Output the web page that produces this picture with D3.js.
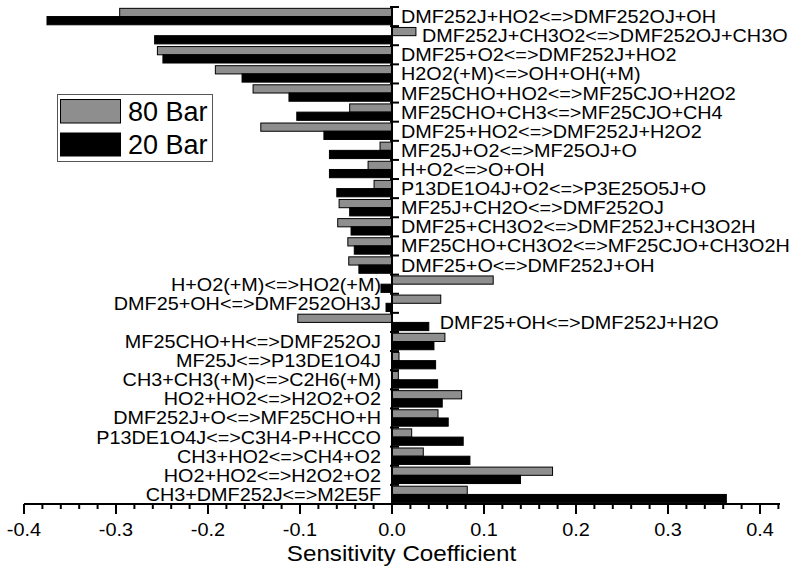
<!DOCTYPE html>
<html><head><meta charset="utf-8">
<script src="https://cdn.jsdelivr.net/npm/d3@7"></script>
<style>body{margin:0;background:#fff}svg{display:block}text{font-family:"Liberation Sans",Arial,sans-serif;fill:#000}</style>
</head><body><svg id="c" width="800" height="572"></svg>
<script>
const categories = [
 "DMF252J+HO2<=>DMF252OJ+OH","DMF252J+CH3O2<=>DMF252OJ+CH3O","DMF25+O2<=>DMF252J+HO2",
 "H2O2(+M)<=>OH+OH(+M)","MF25CHO+HO2<=>MF25CJO+H2O2","MF25CHO+CH3<=>MF25CJO+CH4",
 "DMF25+HO2<=>DMF252J+H2O2","MF25J+O2<=>MF25OJ+O","H+O2<=>O+OH","P13DE1O4J+O2<=>P3E25O5J+O",
 "MF25J+CH2O<=>DMF252OJ","DMF25+CH3O2<=>DMF252J+CH3O2H","MF25CHO+CH3O2<=>MF25CJO+CH3O2H",
 "DMF25+O<=>DMF252J+OH","H+O2(+M)<=>HO2(+M)","DMF25+OH<=>DMF252OH3J","DMF25+OH<=>DMF252J+H2O",
 "MF25CHO+H<=>DMF252OJ","MF25J<=>P13DE1O4J","CH3+CH3(+M)<=>C2H6(+M)","HO2+HO2<=>H2O2+O2",
 "DMF252J+O<=>MF25CHO+H","P13DE1O4J<=>C3H4-P+HCCO","CH3+HO2<=>CH4+O2","HO2+HO2<=>H2O2+O2",
 "CH3+DMF252J<=>M2E5F"];
const bar80 = [-0.296,0.026,-0.255,-0.192,-0.151,-0.046,-0.1426,-0.013,-0.026,-0.0195,-0.0575,-0.059,-0.048,-0.047,
  0.110,0.053,-0.1024,0.0575,0.0076,0.0069,0.0757,0.050,0.0214,0.034,0.1745,0.0818];
const bar20 = [-0.375,-0.258,-0.249,-0.163,-0.112,-0.1035,-0.074,-0.068,-0.068,-0.060,-0.046,-0.0445,-0.041,-0.036,
  -0.012,-0.0065,0.040,0.0456,0.0474,0.0496,0.0546,0.0611,0.0774,0.0847,0.1397,0.3634];
const labelSide = ["R","R","R","R","R","R","R","R","R","R","R","R","R","R","L","L","R","L","L","L","L","L","L","L","L","L"];
const seriesNames = ["80 Bar","20 Bar"];
const xTicks = [-0.4,-0.3,-0.2,-0.1,0.0,0.1,0.2,0.3,0.4];
const xTickLabels = ["-0.4","-0.3","-0.2","-0.1","0.0","0.1","0.2","0.3","0.4"];
const xTitle = "Sensitivity Coefficient";

const svg = d3.select("#c");
const x = d3.scaleLinear().domain([-0.4,0.42]).range([24,778.4]);
const y = d3.scaleBand().domain(d3.range(categories.length)).range([7,504]).padding(0);
const bw = y.bandwidth();
const bh = bw*0.43;
const GRAY = "#8e8e8e";

function txt(g, s, tx, ty, size, anchor, sx){
  return g.append("text").attr("transform",`translate(${tx},${ty}) scale(${sx},1)`)
    .attr("text-anchor",anchor).attr("font-size",size).text(s);
}

// bars
const gb = svg.append("g");
gb.selectAll(".b80").data(bar80).join("rect")
  .attr("x",d=>x(Math.min(0,d))).attr("width",d=>Math.abs(x(d)-x(0)))
  .attr("y",(d,i)=>y(i)+bw/2-bh).attr("height",bh)
  .attr("fill",GRAY).attr("stroke","#000").attr("stroke-width",1);
gb.selectAll(".b20").data(bar20).join("rect")
  .attr("x",d=>x(Math.min(0,d))).attr("width",d=>Math.abs(x(d)-x(0)))
  .attr("y",(d,i)=>y(i)+bw/2).attr("height",bh)
  .attr("fill","#000").attr("stroke","#000").attr("stroke-width",1);

// y axis
const gy = svg.append("g");
gy.append("line").attr("x1",x(0)).attr("x2",x(0)).attr("y1",7).attr("y2",504).attr("stroke","#000").attr("stroke-width",2);
gy.selectAll(".yt").data(d3.range(categories.length)).join("line")
  .attr("x1",x(0)-2).attr("x2",x(0)+7).attr("y1",i=>y(i)).attr("y2",i=>y(i))
  .attr("stroke","#000").attr("stroke-width",2);

// category labels
const gl = svg.append("g");
categories.forEach((c,i)=>{
  const cy = y(i)+bw/2+6.5;
  if(labelSide[i]==="R"){
    const end = Math.max(x(0), x(bar80[i]), x(bar20[i]));
    const lx = end>x(0)+1 ? end+(bar80[i]>0?6:11) : x(0)+9;
    txt(gl,c,lx,cy,18,"start",1.1);
  } else {
    txt(gl,c,x(0)-11,cy,18,"end",1.1);
  }
});

// x axis
const gx = svg.append("g").attr("transform","translate(0,504)");
gx.append("line").attr("x1",24).attr("x2",780).attr("stroke","#000").attr("stroke-width",2);
const minor = d3.range(-20,22).map(k=>k*0.02);
gx.selectAll(".mn").data(minor).join("line")
  .attr("x1",d=>x(d)).attr("x2",d=>x(d)).attr("y1",0).attr("y2",5).attr("stroke","#000").attr("stroke-width",2);
gx.selectAll(".mj").data(xTicks).join("line")
  .attr("x1",d=>x(d)).attr("x2",d=>x(d)).attr("y1",0).attr("y2",10).attr("stroke","#000").attr("stroke-width",2);
xTicks.forEach((t,i)=>txt(gx,xTickLabels[i],x(t),32,18.6,"middle",1.07));
txt(svg,xTitle,401.5,561,22,"middle",1.1);

// legend
const lg = svg.append("g");
lg.append("rect").attr("x",57.5).attr("y",94.5).attr("width",155).attr("height",67).attr("fill","#fff").attr("stroke","#555").attr("stroke-width",1);
lg.append("rect").attr("x",60.5).attr("y",99.5).attr("width",60).attr("height",23.5).attr("fill",GRAY).attr("stroke","#000").attr("stroke-width",1);
lg.append("rect").attr("x",60.5).attr("y",133).attr("width",60).attr("height",23).attr("fill","#000").attr("stroke","#000").attr("stroke-width",1);
txt(lg,seriesNames[0],128,121,27,"start",1);
txt(lg,seriesNames[1],128,154,27,"start",1);
</script></body></html>
